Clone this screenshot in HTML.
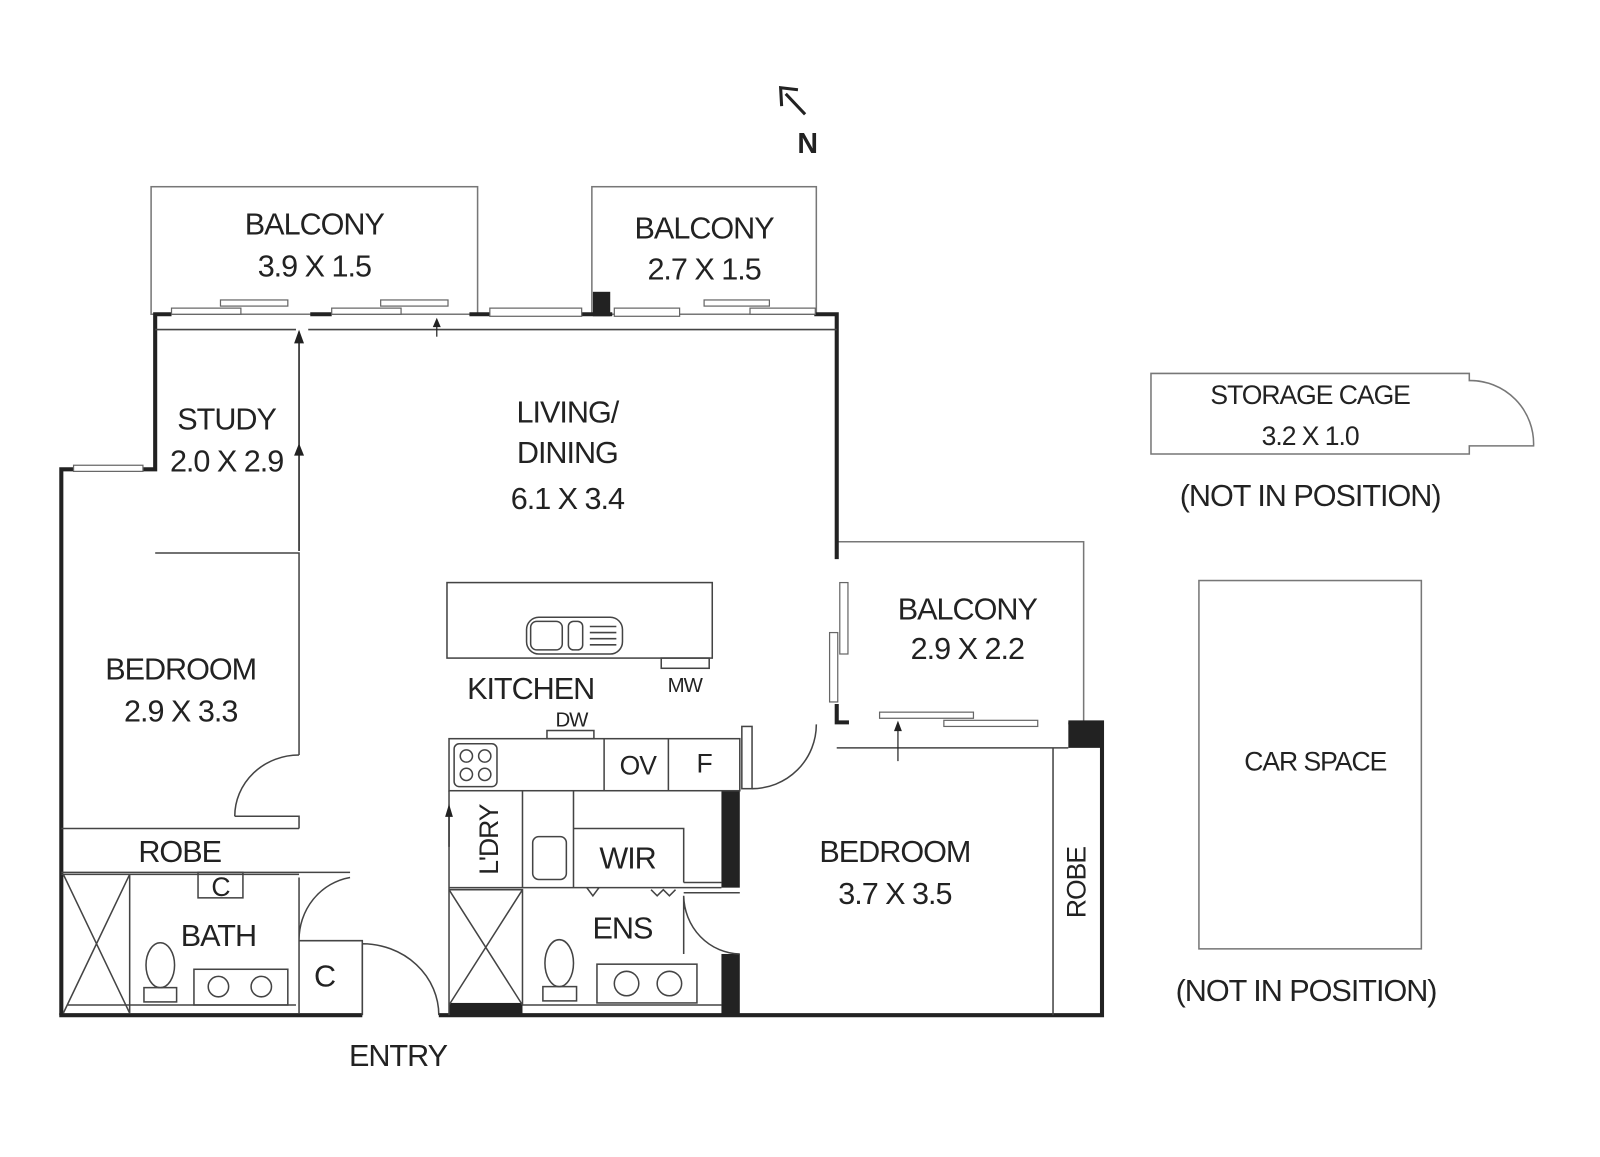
<!DOCTYPE html>
<html><head><meta charset="utf-8"><style>
html,body{margin:0;padding:0;background:#fff}
svg{display:block}
text{font-family:"Liberation Sans",sans-serif;fill:#222;text-anchor:middle;letter-spacing:-1px}
</style></head><body>
<svg width="1600" height="1157" viewBox="0 0 1568 1134" xmlns="http://www.w3.org/2000/svg">
<g fill="none" stroke="#777" stroke-width="1.5">
<rect x="148" y="183" width="320" height="125"/>
<rect x="580" y="183" width="220" height="125"/>
<path d="M820 531 H1062 V708"/>
<path d="M1440 445 H1128 V366 H1440 V373 A62 62 0 0 1 1503 437 H1440 Z"/>
<rect x="1175" y="569" width="218" height="361"/>
</g>
<g fill="none" stroke="#222" stroke-width="4">
<path d="M60 995 V460 H72 M140 460 H152 V308 H168"/>
<path d="M304 308 H325 M460 308 H480 M570 308 H600 M798 308 H820 V548"/>
<path d="M820 690 V708 H832"/>
<path d="M58 995 H355 M430 995 H1080 V708 H1047"/>
</g>
<rect x="581" y="286" width="17" height="24" fill="#222"/>
<rect x="1047" y="708" width="33" height="25" fill="#222"/>
<rect x="707" y="775" width="18" height="95" fill="#222"/>
<rect x="707" y="935" width="18" height="60" fill="#222"/>
<rect x="440" y="983" width="72" height="12" fill="#222"/>
<g fill="#fff" stroke="#666" stroke-width="1.2">
<rect x="72" y="456" width="68" height="6"/>
<rect x="168" y="302" width="68" height="6"/><rect x="216" y="294" width="66" height="6"/>
<rect x="325" y="302" width="68" height="6"/><rect x="373" y="294" width="66" height="6"/>
<rect x="480" y="302" width="90" height="8"/>
<rect x="602" y="302" width="64" height="8"/>
<rect x="690" y="294" width="64" height="6"/><rect x="735" y="302" width="64" height="6"/>
<rect x="823" y="571" width="8" height="70"/><rect x="813" y="620" width="8" height="68"/>
<rect x="862" y="698" width="92" height="6"/><rect x="925" y="706" width="92" height="6"/>
</g>
<g fill="none" stroke="#444" stroke-width="1.5">
<path d="M152 323 H290 M302 323 H820"/>
<path d="M293 325 V540 M152 542 H293 V740 M230 800 H293 V812"/>
<path d="M230 800 A63 60 0 0 1 293 740"/>
<path d="M60 812 H293 M60 855 H343 M60 857 H293"/>
<path d="M127 857 V993 M62 857 L127 993 M127 857 L62 993"/>
<rect x="194" y="855" width="44" height="25"/>
<path d="M293 860 V922 A60 62 0 0 1 343 860 M293 922 H355 V995 M293 922 V993"/>
<path d="M66 985 H290"/>
<ellipse cx="157" cy="946" rx="14" ry="22"/><rect x="141" y="968" width="32" height="14"/>
<rect x="190" y="950" width="92" height="35"/><circle cx="214" cy="967" r="10"/><circle cx="256" cy="967" r="10"/>
<path d="M355 925 V995 M355 925 A75 70 0 0 1 430 995"/>
<rect x="438" y="571" width="260" height="74"/>
<rect x="516" y="605" width="94" height="36" rx="12"/><rect x="520" y="609" width="31" height="28" rx="6"/><rect x="557" y="609" width="14" height="28" rx="5"/>
<path d="M578 614 H604 M578 620 H604 M578 626 H604 M578 632 H604"/>
<rect x="648" y="645" width="47" height="10"/>
<rect x="536" y="716" width="46" height="8"/>
<rect x="440" y="724" width="285" height="51"/>
<path d="M592 724 V775 M655 724 V775"/>
<rect x="445" y="729" width="42" height="42" rx="5"/>
<circle cx="457" cy="741" r="6"/><circle cx="475" cy="741" r="6"/><circle cx="457" cy="759" r="6"/><circle cx="475" cy="759" r="6"/>
<rect x="727" y="712" width="10" height="61"/><path d="M737 773 A63 63 0 0 0 800 710"/>
<path d="M440 775 V995 M512 775 V870 M562 775 V870 M440 870 H707"/>
<rect x="522" y="820" width="33" height="42" rx="6"/>
<path d="M562 812 H670 V865 M670 865 H707"/>
<path d="M440 872 H512 V985 M440 872 L512 985 M512 872 L440 985"/>
<path d="M512 985 H707"/>
<ellipse cx="548" cy="944" rx="14" ry="23"/><rect x="532" y="967" width="33" height="14"/>
<rect x="585" y="945" width="98" height="38"/><circle cx="614" cy="964" r="12"/><circle cx="656" cy="964" r="12"/>
<path d="M670 878 V935 M670 878 A56 58 0 0 0 725 935 M670 875 H725"/>
<path d="M575 870 L581 878 L587 870 M638 872 L644 878 L650 872 L656 878 L662 872"/>
<path d="M820 733 H1047 M1032 733 V995"/>
</g>
<g stroke="#222" stroke-width="1.2" fill="#222">
<path d="M293 540 V330"/><path d="M289 336 L293 325 L297 336 Z"/>
<path d="M289 446 L293 436 L297 446 Z"/>
<path d="M428 330 V318"/><path d="M425 320 L428 313 L431 320 Z"/>
<path d="M880 746 V712"/><path d="M877 716 L880 708 L883 716 Z"/>
<path d="M440 830 V795"/><path d="M437 800 L440 790 L443 800 Z"/>
<path d="M789 112 L770 92" fill="none" stroke-width="3"/><path d="M766 104 L765 86 L782 88" fill="none" stroke-width="3"/>
</g>
<text x="791" y="150" font-size="28" font-weight="bold">N</text>
<g font-size="30">
<text x="308" y="230">BALCONY</text><text x="308" y="271">3.9 X 1.5</text>
<text x="690" y="234">BALCONY</text><text x="690" y="274">2.7 X 1.5</text>
<text x="222" y="421">STUDY</text><text x="222" y="462">2.0 X 2.9</text>
<text x="556" y="414">LIVING/</text><text x="556" y="454">DINING</text><text x="556" y="499">6.1 X 3.4</text>
<text x="948" y="607">BALCONY</text><text x="948" y="646">2.9 X 2.2</text>
<text x="177" y="666">BEDROOM</text><text x="177" y="707">2.9 X 3.3</text>
<text x="520" y="685">KITCHEN</text>
<text x="176" y="845">ROBE</text>
<text x="214" y="927">BATH</text>
<text x="318" y="967">C</text>
<text x="615" y="851">WIR</text>
<text x="610" y="920">ENS</text>
<text x="877" y="845">BEDROOM</text><text x="877" y="886">3.7 X 3.5</text>
<text x="390" y="1045">ENTRY</text>
<text x="1284" y="496">(NOT IN POSITION)</text>
<text x="1280" y="981">(NOT IN POSITION)</text>
</g>
<g font-size="26">
<text x="625" y="759">OV</text><text x="690" y="757">F</text>
<text x="216" y="878">C</text>
<text x="1284" y="396">STORAGE CAGE</text><text x="1284" y="436">3.2 X 1.0</text>
<text x="1289" y="755">CAR SPACE</text>
<text transform="translate(488 823) rotate(-90)">L'DRY</text>
<text transform="translate(1064 865) rotate(-90)">ROBE</text>
</g>
<g font-size="20"><text x="671" y="678">MW</text><text x="560" y="712">DW</text></g>
</svg>
</body></html>
